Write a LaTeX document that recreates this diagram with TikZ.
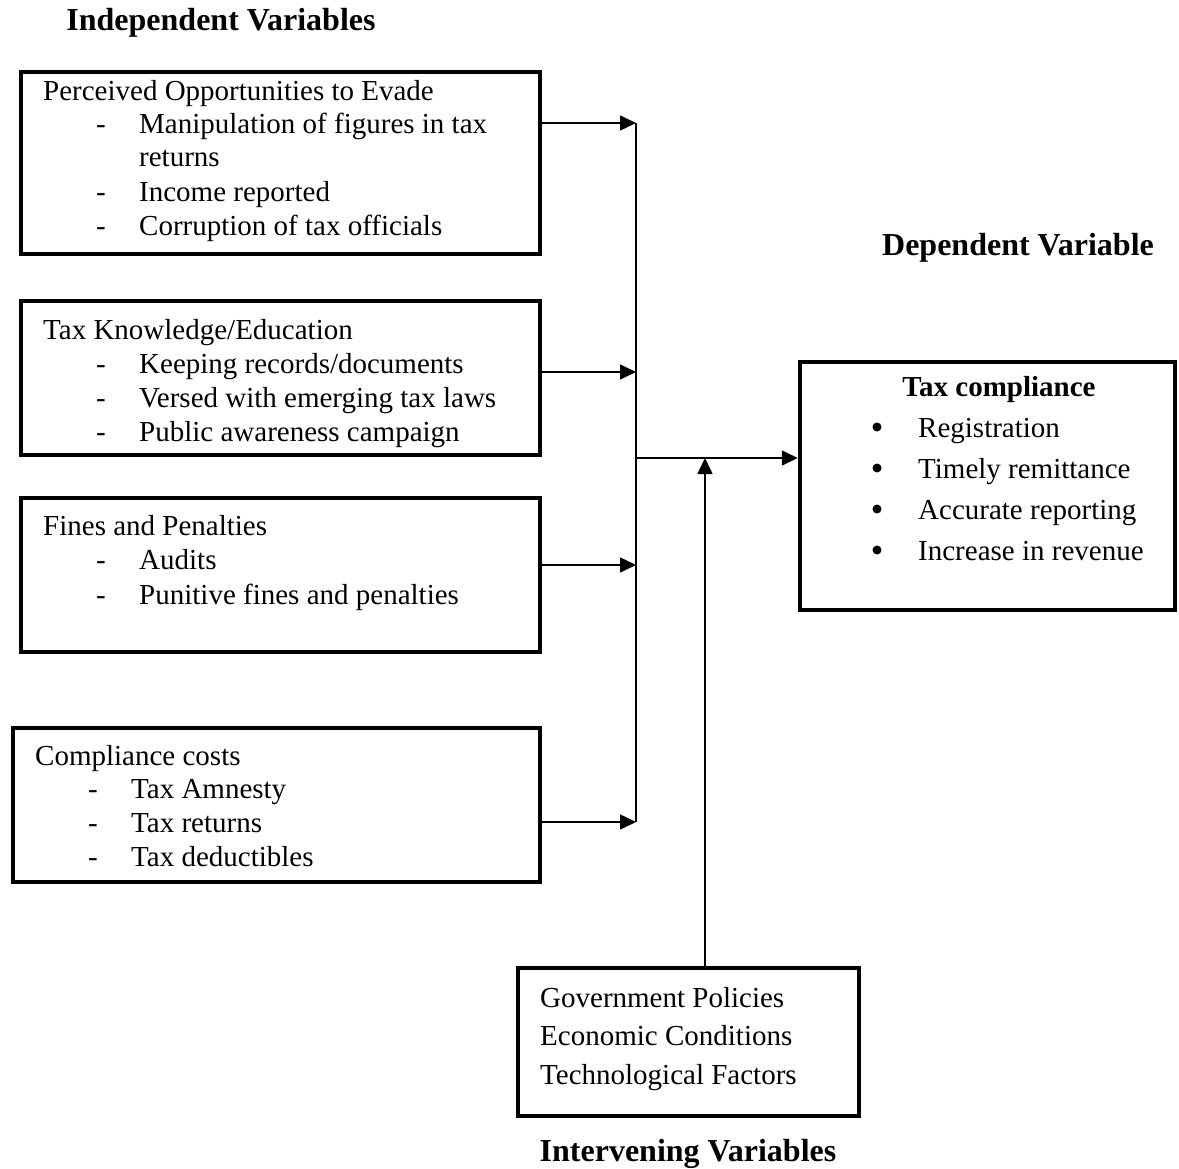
\documentclass[tikz,border=0pt]{standalone}
\usepackage{fontspec}
\setmainfont{Liberation Serif}
\usetikzlibrary{arrows.meta}

\begin{document}
\begin{tikzpicture}[x=1pt,y=-1pt,
	box/.style={draw,line width=4.5pt,inner sep=0pt},
	txt/.style={anchor=base west,inner sep=0pt,font=\fontsize{29}{34}\selectfont},
	ttl/.style={anchor=base,inner sep=0pt,font=\fontsize{32}{38}\selectfont\bfseries},
	arr/.style={line width=1.6pt,-{Triangle[length=16pt,width=15pt]}}]
	\useasboundingbox (0,0) rectangle (1179,1169);

	\node[ttl] (tI) at (221,31) {Independent Variables};
	\node[ttl] (tD) at (1018,256) {Dependent Variable};
	\node[ttl] (tV) at (688,1161) {Intervening Variables};

	\node[box,minimum width=519pt,minimum height=182pt] (P) at (280.5,163) {};
	\node[box,minimum width=519pt,minimum height=154pt] (K) at (280.5,378) {};
	\node[box,minimum width=519pt,minimum height=154pt] (F) at (280.5,575) {};
	\node[box,minimum width=527pt,minimum height=154pt] (Q) at (276.5,805) {};
	\node[box,minimum width=375pt,minimum height=248pt] (C) at (987.5,486) {};
	\node[box,minimum width=341pt,minimum height=148pt] (I) at (688.5,1042) {};

	\node[txt] (p0) at (43,101) {Perceived Opportunities to Evade};
	\node[txt] (p1) at (139,134) {Manipulation of figures in tax};
	\node[txt] (p2) at (139,167) {returns};
	\node[txt] (p3) at (139,202) {Income reported};
	\node[txt] (p4) at (139,236) {Corruption of tax officials};
	\foreach \y [count=\i] in {134,202,236}
		\node[txt] (pd\i) at (96,\y) {-};

	\node[txt] (k0) at (43,339) {Tax Knowledge/Education};
	\foreach \t [count=\i] in {Keeping records/documents,Versed with emerging tax laws,Public awareness campaign} {
		\node[txt] (kd\i) at (96,{339+34*\i}) {-};
		\node[txt] (k\i) at (139,{339+34*\i}) {\t};
	}

	\node[txt] (f0) at (43,535) {Fines and Penalties};
	\foreach \t [count=\i] in {Audits,Punitive fines and penalties} {
		\node[txt] (fd\i) at (96,{535+34.5*\i}) {-};
		\node[txt] (f\i) at (139,{535+34.5*\i}) {\t};
	}

	\node[txt] (q0) at (35,765) {Compliance costs};
	\foreach \t [count=\i] in {Tax Amnesty,Tax returns,Tax deductibles} {
		\node[txt] (qd\i) at (88,{765+33.7*\i}) {-};
		\node[txt] (q\i) at (131,{765+33.7*\i}) {\t};
	}

	\node[txt,anchor=base,font=\fontsize{29}{34}\selectfont\bfseries] (c0) at (999,396) {Tax compliance};
	\foreach \t [count=\i] in {Registration,Timely remittance,Accurate reporting,Increase in revenue} {
		\node[circle,fill,inner sep=0pt,minimum size=9pt] (cb\i) at (877,{386+41*\i}) {};
		\node[txt] (c\i) at (918,{396+41*\i}) {\t};
	}

	\foreach \t [count=\i] in {Government Policies,Economic Conditions,Technological Factors}
		\node[txt] (i\i) at (540,{968.5+38.5*\i}) {\t};

	\coordinate (j1) at (636,123);
	\coordinate (j2) at (636,372);
	\coordinate (j3) at (636,565);
	\coordinate (j4) at (636,822);
	\coordinate (j0) at (636,458);
	\coordinate (m) at (705,458);

	\draw[line width=1.6pt] (j1)--(j4);
	\draw[arr] (P.east |- j1)--(j1);
	\draw[arr] (K.east |- j2)--(j2);
	\draw[arr] (F.east |- j3)--(j3);
	\draw[arr] (Q.east |- j4)--(j4);
	\draw[arr] (j0)--(C.west |- j0);
	\draw[arr] (I.north -| m)--(m);
\end{tikzpicture}
\end{document}
